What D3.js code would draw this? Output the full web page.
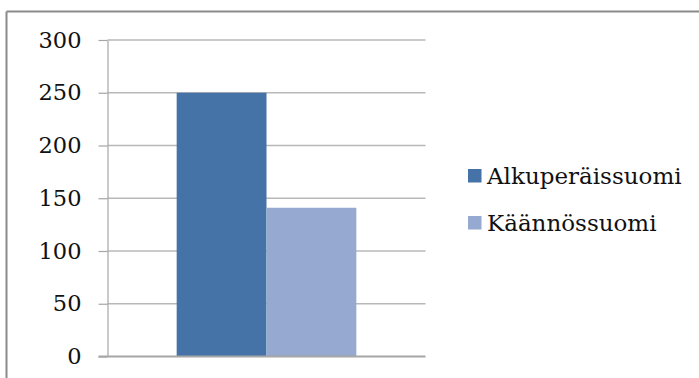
<!DOCTYPE html>
<html>
<head>
<meta charset="utf-8">
<script src="https://cdn.jsdelivr.net/npm/d3@7/dist/d3.min.js"></script>
<style>
  html, body { margin: 0; padding: 0; background: #fff; }
  svg { display: block; }
</style>
</head>
<body>
<svg id="chart" width="699" height="378"></svg>
<script>
// Series and values
const categories = ["Alkuperäissuomi", "Käännössuomi"];
const values = [250, 141];
const colors = ["#4572a7", "#95a9d1"];
const yTicks = [0, 50, 100, 150, 200, 250, 300];

const svg = d3.select("#chart");
const font = "'DejaVu Serif', serif";

// Outer frame: only top and left edges are visible
svg.append("line").attr("x1", 6.5).attr("x2", 699).attr("y1", 11.5).attr("y2", 11.5)
  .attr("stroke", "#8a8a8a").attr("stroke-width", 2);
svg.append("line").attr("x1", 6.5).attr("x2", 6.5).attr("y1", 11.5).attr("y2", 378)
  .attr("stroke", "#8a8a8a").attr("stroke-width", 2);

const plot = { left: 107.5, right: 425.5, top: 40, bottom: 356.5 };

const y = d3.scaleLinear().domain([0, 300]).range([plot.bottom, plot.top]);
const x = d3.scaleBand().domain(["group"]).range([plot.left, plot.right]);
const xs = d3.scaleBand().domain(categories).range([0, x.bandwidth()]).paddingOuter(0.77).paddingInner(0);

// Gridlines
svg.append("g").selectAll("line").data(yTicks.filter(d => d > 0)).join("line")
  .attr("x1", plot.left).attr("x2", plot.right)
  .attr("y1", d => y(d)).attr("y2", d => y(d))
  .attr("stroke", "#b8b8b8").attr("stroke-width", 1.5);

// Bars
svg.append("g").selectAll("rect").data(categories).join("rect")
  .attr("x", d => x("group") + xs(d))
  .attr("width", xs.bandwidth())
  .attr("y", (d, i) => y(values[i]))
  .attr("height", (d, i) => y(0) - y(values[i]))
  .attr("fill", (d, i) => colors[i]);

// Y axis
const yAxis = d3.axisLeft(y).tickValues(yTicks).tickSize(9).tickPadding(17).tickSizeOuter(0);
const ga = svg.append("g").attr("transform", `translate(${plot.left},0)`).call(yAxis);
ga.select(".domain").attr("stroke", "#a6a6a6").attr("stroke-width", 1.2);
ga.selectAll(".tick line").attr("stroke", "#a6a6a6").attr("stroke-width", 1.2);
ga.selectAll(".tick text").attr("font-family", font).attr("font-size", 22.5).attr("fill", "#111");

// Baseline
svg.append("line").attr("x1", plot.left - 9).attr("x2", plot.right)
  .attr("y1", y(0)).attr("y2", y(0)).attr("stroke", "#a6a6a6").attr("stroke-width", 2);

// Legend
const legend = svg.append("g").selectAll("g").data(categories).join("g")
  .attr("transform", (d, i) => `translate(468,${169 + i * 47})`);
legend.append("rect").attr("width", 13.5).attr("height", 13.5).attr("fill", (d, i) => colors[i]);
legend.append("text").attr("x", 19).attr("y", 15.3)
  .attr("font-family", font).attr("font-size", 23).attr("fill", "#111")
  .text(d => d);
</script>
</body>
</html>
